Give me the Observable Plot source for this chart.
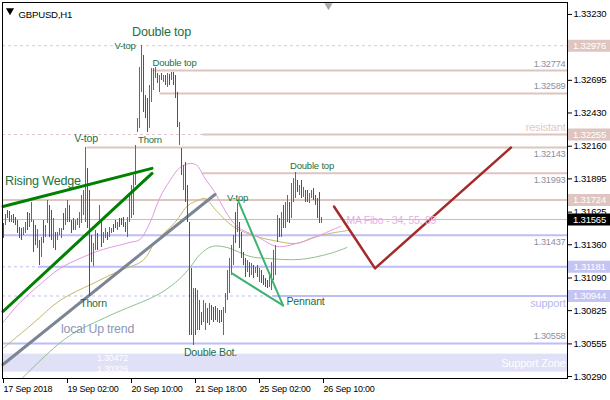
<!DOCTYPE html>
<html><head><meta charset="utf-8">
<script src="https://cdn.jsdelivr.net/npm/d3@7"></script>
<script src="https://cdn.jsdelivr.net/npm/@observablehq/plot@0.6"></script>
<style>
body{margin:0;background:#fff;}
#chart svg{display:block;}
</style>
</head><body><div id="chart"></div>
<script>
// ---------- data ----------
const symbolTitle = "GBPUSD,H1";
const xTickIdx = [0, 32, 64, 96, 128, 160];
const xTickLabels = ["17 Sep 2018", "19 Sep 02:00", "20 Sep 10:00", "21 Sep 18:00", "25 Sep 02:00", "26 Sep 10:00"];
const yTicks = [1.3323, 1.3296, 1.32695, 1.3243, 1.3216, 1.31895, 1.31625, 1.3136, 1.3109, 1.30825, 1.30555, 1.3029];
const yTicksHidden = [1.3296]; // label covered by the 1.32976 price box

const barHigh = [
1.31532,1.31606,1.31638,1.31630,1.31597,1.31606,1.31581,1.31557,1.31500,1.31492,
1.31500,1.31541,1.31622,1.31614,1.31703,1.31557,1.31516,1.31484,1.31394,1.31419,
1.31557,1.31516,1.31719,1.31679,1.31638,1.31573,1.31459,1.31459,1.31492,1.31492,
1.31614,1.31654,1.31719,1.31679,1.31557,1.31573,1.31557,1.31573,1.31622,1.31760,
1.31800,1.32150,1.31979,1.31800,1.31435,1.31370,1.31475,1.31451,1.31679,1.31557,
1.31459,1.31492,1.31459,1.31500,1.31492,1.31524,1.31557,1.31541,1.31573,1.31573,
1.31581,1.31541,1.31581,1.31760,1.31841,1.31922,1.32166,1.32386,1.32800,1.32978,
1.32897,1.32572,1.32548,1.32653,1.32792,1.32792,1.32800,1.32751,1.32735,1.32751,
1.32735,1.32735,1.32751,1.32743,1.32759,1.32759,1.32735,1.32597,1.32353,1.32142,
1.32003,1.32028,1.31841,1.31541,1.31167,1.31005,1.31005,1.30988,1.30907,1.30809,
1.30907,1.30882,1.30842,1.30882,1.30866,1.30850,1.30858,1.30842,1.30826,1.30826,
1.30850,1.30964,1.31151,1.31248,1.31354,1.31435,1.31622,1.31695,1.31541,1.31459,
1.31297,1.31248,1.31232,1.31216,1.31207,1.31191,1.31175,1.31191,1.31167,1.31151,
1.31110,1.31086,1.31069,1.31134,1.31216,1.31313,1.31354,1.31597,1.31573,1.31622,
1.31679,1.31703,1.31760,1.31703,1.31857,1.31898,1.31947,1.31882,1.31841,1.31882,
1.31825,1.31800,1.31800,1.31776,1.31800,1.31817,1.31760,1.31736,1.31784,1.31581];
const barLow = [
1.31410,1.31516,1.31573,1.31541,1.31541,1.31532,1.31516,1.31451,1.31410,1.31394,
1.31435,1.31451,1.31475,1.31500,1.31541,1.31297,1.31354,1.31329,1.31191,1.31256,
1.31370,1.31419,1.31532,1.31419,1.31394,1.31329,1.31313,1.31394,1.31435,1.31410,
1.31475,1.31516,1.31541,1.31541,1.31451,1.31475,1.31475,1.31516,1.31492,1.31532,
1.31597,1.31541,1.31492,1.30939,1.31216,1.31183,1.31313,1.31313,1.31541,1.31337,
1.31370,1.31410,1.31394,1.31419,1.31451,1.31459,1.31492,1.31475,1.31500,1.31516,
1.31500,1.31459,1.31419,1.31541,1.31573,1.31597,1.31841,1.32272,1.32304,1.32597,
1.32434,1.32386,1.32272,1.32304,1.32515,1.32613,1.32710,1.32670,1.32597,1.32694,
1.32678,1.32653,1.32637,1.32653,1.32694,1.32653,1.32548,1.32312,1.32166,1.31922,
1.31800,1.31703,1.31541,1.30623,1.30623,1.30541,1.30623,1.30663,1.30663,1.30704,
1.30728,1.30663,1.30720,1.30704,1.30744,1.30728,1.30744,1.30728,1.30720,1.30728,
1.30623,1.30801,1.30907,1.30964,1.31110,1.31191,1.31370,1.31459,1.31329,1.31248,
1.31191,1.31094,1.31134,1.31094,1.31110,1.31086,1.31126,1.31094,1.31053,1.31045,
1.31029,1.31013,1.31005,1.31013,1.30988,1.31069,1.31110,1.31378,1.31419,1.31419,
1.31492,1.31492,1.31541,1.31532,1.31573,1.31703,1.31736,1.31784,1.31760,1.31736,
1.31744,1.31703,1.31703,1.31695,1.31736,1.31719,1.31679,1.31573,1.31532,1.31532];
const barUp = [
0,1,0,0,1,0,0,0,0,0, 1,1,0,1,1,0,0,1,0,1, 0,1,1,0,0,1,0,1,1,1, 0,1,1,0,0,0,1,1,1,1,
1,1,0,0,0,1,1,0,1,0, 1,1,0,1,1,0,0,1,0,0, 0,0,1,1,1,1,1,1,1,1, 0,0,0,1,1,1,1,0,1,0,
1,0,1,0,1,0,0,0,1,0, 1,0,0,0,0,1,0,1,0,0, 1,1,0,1,0,0,0,1,0,0, 1,1,1,1,1,1,0,1,0,0,
0,0,1,0,1,0,1,0,1,0, 0,0,0,1,1,1,1,1,0,1, 0,1,1,0,1,1,1,0,1,0, 1,0,0,1,1,0,0,0,0,1];

// moving averages (MA Fibo 34, 55, 89), bar index / price
const ma34I = [-0.25,8.25,18.25,28.25,38.25,48.25,63.25,68.25,73.25,78.25,83.25,88.25,93.25,96.75,100.75,105.75,110.75,116.75,126.75,136.75,146.75,156.75,164.75,168.75];
const ma34P = [1.30729,1.30891,1.31038,1.31168,1.31249,1.31314,1.31379,1.31403,1.31541,1.31744,1.31882,1.31988,1.32020,1.32004,1.31898,1.31785,1.31638,1.31509,1.31427,1.31346,1.31371,1.31427,1.31484,1.31509];
const ma55I = [-0.25,14.75,28.25,44.75,58.25,69.75,75.75,85.75,92.25,97.25,100.75,106.75,114.75,123.25,134.75,146.75,154.75,163.25,172.25];
const ma55P = [1.30518,1.30721,1.30908,1.31046,1.31151,1.31232,1.31379,1.31541,1.31679,1.31720,1.31736,1.31630,1.31509,1.31444,1.31395,1.31371,1.31419,1.31452,1.31476];
const ma89I = [9.25,31.75,53.25,78.25,88.25,93.25,98.25,104.25,111.75,123.25,131.75,148.25,163.25,171.75];
const ma89P = [1.30274,1.30607,1.30786,1.30965,1.31086,1.31176,1.31281,1.31346,1.31338,1.31265,1.31249,1.31241,1.31289,1.31338];

// trend lines (bar index, price)
const wedgeUpperI = [-0.25, 74.25], wedgeUpperP = [1.31671, 1.31980];
const wedgeLowerI = [-0.25, 74.25], wedgeLowerP = [1.30818, 1.31939];
const upTrendI = [-0.25, 105.75], upTrendP = [1.30388, 1.31768];
const pennantAI = [117.25, 139.75], pennantAP = [1.31720, 1.30867];
const pennantBI = [114.25, 139.75], pennantBP = [1.31127, 1.30867];
const projectionI = [165.25, 185.75, 253.75], projectionP = [1.31671, 1.31168, 1.32150];

// horizontal levels
const hDashPink = [1.32976, 1.32255];
const hDashBlue = [1.31181, 1.30944];
const solidPinkFull = [1.31724];
const solidBlueFull = [1.31437, 1.30558];
const rayPrice = [1.32774, 1.32589, 1.32150, 1.31941, 1.32255, 1.31181, 1.30944];
const rayStart = [74.75, 78.25, 41.75, 99.75, 99.75, 17.75, 134.75];
const rayColor = ["pink","pink","pink","pink","pink","blue","blue"];
const levelLabelPrice = [1.32774, 1.32589, 1.32150, 1.31941, 1.31437, 1.30558];
const levelLabelText = ["1.32774", "1.32589", "1.32143", "1.31993", "1.31437", "1.30558"];
const levelLabelSide = ["above", "above", "below", "below", "below", "above"];
const boxPrice = [1.32976, 1.32255, 1.31724, 1.31565, 1.31181, 1.30944];
const boxKind = ["pink", "pink", "pink", "current", "blue", "blue"];
const currentPrice = 1.31565;
const zoneLow = 1.30326, zoneHigh = 1.30472;
const chartShiftIdx = 162.5;

// pattern annotations
const annText = ["Double top","V-top","Double top","Thorn","V-top","Rising Wedge","Thorn","local Up trend","Double Bot.","V-top","Double top","Pennant","MA Fibo - 34, 55, 89"];
const annI =    [79, 60.75, 85.5, 73.25, 41.25, 19.75, 45, 47, 103.5, 117, 154.25, 141.5, 171.5];
const annP =    [1.33084, 1.32978, 1.32840, 1.32207, 1.32223, 1.31882, 1.30883, 1.30672, 1.30485, 1.31736, 1.31996, 1.30899, 1.31557];
const annKind = ["big","small","small","small","mid","big","mid","trend","mid","small","small","midL","ma"];

// ---------- styles ----------
const TEAL = "#0e8f8f", RED = "#dc143c";
const PINK = "#dec5bf", PINKD = "#e4c4cc", BLUE = "#bebef6", BLUED = "#c0c0ee", ZONE = "#e0e0f6";
const ANN = "#1d6f42";
const X0 = -0.5, X1 = 282;
const BAR_W = 0.5; // bar body width in bar-index units (1 px)

const bars = barHigh.map((h, k) => ({i: k, hi: h, lo: barLow[k], up: barUp[k] === 1}));
const pts = (I, P) => I.map((v, k) => ({i: v, p: P[k]}));
const rays = rayPrice.map((p, k) => ({p, s: rayStart[k], c: rayColor[k] === "pink" ? PINK : BLUE}));
const lvl = levelLabelPrice.map((p, k) => ({p, t: levelLabelText[k], side: levelLabelSide[k]}));
const boxes = boxPrice.map((p, k) => ({p, kind: boxKind[k]}));
const boxBg = {pink: PINK, blue: "#c4c4f2", current: "#000"};
const annStyle = {
  big:   {fontSize: 12.6, fill: ANN, textAnchor: "middle"},
  mid:   {fontSize: 10.6, fill: ANN, textAnchor: "middle"},
  midL:  {fontSize: 10.6, fill: ANN, textAnchor: "start"},
  small: {fontSize: 9.5, fill: ANN, textAnchor: "middle"},
  trend: {fontSize: 12.3, fill: "#8c96b6", textAnchor: "middle"},
  ma:    {fontSize: 10.4, fill: "#e6aee6", textAnchor: "start"}
};

const plot = Plot.plot({
  width: 610, height: 400,
  marginLeft: 2, marginTop: 2, marginRight: 43, marginBottom: 22,
  x: {domain: [X0, X1], axis: null},
  y: {domain: [1.30274, 1.33327], axis: null},
  color: {type: "identity"},
  style: {fontFamily: "'Liberation Sans', Arial, sans-serif", background: "#fff", overflow: "visible"},
  marks: [
    // support zone
    Plot.rect([{a: zoneLow, b: zoneHigh}], {x1: X0, x2: X1, y1: "a", y2: "b", fill: ZONE}),
    // dashed horizontal lines
    Plot.ruleY(hDashPink, {stroke: PINKD, strokeWidth: 1, strokeDasharray: "3,3"}),
    Plot.ruleY(hDashBlue, {stroke: BLUED, strokeWidth: 1, strokeDasharray: "3,3"}),
    // solid levels
    Plot.ruleY(solidPinkFull, {stroke: PINK, strokeWidth: 2}),
    Plot.ruleY(solidBlueFull, {stroke: BLUE, strokeWidth: 2}),
    Plot.ruleY(rays, {y: "p", x1: "s", x2: X1, stroke: "c", strokeWidth: 2}),
    Plot.ruleY([currentPrice], {stroke: "#c0c0c0", strokeWidth: 1}),
    // level labels
    Plot.text(lvl.filter(d => d.side === "above"), {y: "p", x: X1, dx: -2, dy: -7, text: "t", textAnchor: "end", fill: "#8e8e9e", fontSize: 9.2}),
    Plot.text(lvl.filter(d => d.side === "below"), {y: "p", x: X1, dx: -2, dy: 6.5, text: "t", textAnchor: "end", fill: "#8e8e9e", fontSize: 9.2}),
    Plot.text([zoneHigh], {y: d => d, x: 54.5, dy: 4, text: d => d.toFixed(5), fill: "#fff", fontSize: 9}),
    Plot.text([zoneLow], {y: d => d, x: 54.5, dy: -3, text: d => d.toFixed(5), fill: "#fff", fontSize: 9}),
    Plot.text(["resistant"], {y: 1.3231, x: X1, dx: -2, text: d => d, textAnchor: "end", fill: "#e6c9c3", fontSize: 11}),
    Plot.text(["support"], {y: 1.30883, x: X1, dx: -2, text: d => d, textAnchor: "end", fill: "#b6b6ee", fontSize: 11}),
    Plot.text(["Support Zone"], {y: 1.30396, x: X1, dx: -2, text: d => d, textAnchor: "end", fill: "#fff", fontSize: 11}),
    // moving averages
    Plot.line(pts(ma89I, ma89P), {x: "i", y: "p", stroke: "#8fc08f", strokeWidth: 1, curve: "catmull-rom"}),
    Plot.line(pts(ma55I, ma55P), {x: "i", y: "p", stroke: "#c4b86a", strokeWidth: 1, curve: "catmull-rom"}),
    Plot.line(pts(ma34I, ma34P), {x: "i", y: "p", stroke: "#e09ae0", strokeWidth: 1, curve: "catmull-rom"}),
    // trend lines
    Plot.line(pts(upTrendI, upTrendP), {x: "i", y: "p", stroke: "#7b8595", strokeWidth: 3}),
    // price bars (up = teal, down = crimson), drawn as 1px filled columns
    Plot.rect(bars.filter(d => d.up), {x1: "i", x2: d => d.i + BAR_W, y1: "lo", y2: "hi", fill: TEAL, shapeRendering: "crispEdges"}),
    Plot.rect(bars.filter(d => !d.up), {x1: "i", x2: d => d.i + BAR_W, y1: "lo", y2: "hi", fill: RED, shapeRendering: "crispEdges"}),
    Plot.line(pts(wedgeUpperI, wedgeUpperP), {x: "i", y: "p", stroke: "#008000", strokeWidth: 3}),
    Plot.line(pts(wedgeLowerI, wedgeLowerP), {x: "i", y: "p", stroke: "#008000", strokeWidth: 3}),
    Plot.line(pts(pennantAI, pennantAP), {x: "i", y: "p", stroke: "#3cb371", strokeWidth: 2}),
    Plot.line(pts(pennantBI, pennantBP), {x: "i", y: "p", stroke: "#3cb371", strokeWidth: 2}),
    Plot.line(pts(projectionI, projectionP), {x: "i", y: "p", stroke: "#a52a2a", strokeWidth: 2.5}),
    // annotations
    ...annText.map((t, k) => Plot.text([t], {x: annI[k], y: annP[k], text: d => d, ...annStyle[annKind[k]]})),
    // title
    Plot.dot([0], {frameAnchor: "top-left", dx: 7.5, dy: 8, symbol: "triangle", r: 3, fill: "#000", rotate: 180}),
    Plot.text([symbolTitle], {frameAnchor: "top-left", dx: 16, dy: 9, text: d => d, textAnchor: "start", fill: "#000", fontSize: 9.6}),
    Plot.dot([chartShiftIdx], {x: d => d, frameAnchor: "top", dy: 3, symbol: "triangle", r: 3, fill: "#a8a8a8", rotate: 180}),
    // frame + axes
    Plot.frame({stroke: "#000"}),
    Plot.axisY({anchor: "right", ticks: yTicks, tickFormat: d => yTicksHidden.includes(d) ? "" : d3.format(".5f")(d), tickSize: 4, tickPadding: 2, fontSize: 9.5, fill: "#000", stroke: "#000"}),
    Plot.axisX({anchor: "bottom", ticks: xTickIdx, tickFormat: d => xTickLabels[xTickIdx.indexOf(d)], tickSize: 5, tickPadding: 2, textAnchor: "start", dx: 0, fontSize: 9, fill: "#000", stroke: "#000"}),
    // right-axis price boxes
    Plot.ruleY(boxes, {y: "p", x1: X1 + 0.5, x2: X1 + 21.5, stroke: d => boxBg[d.kind], strokeWidth: 12}),
    Plot.text(boxes, {y: "p", x: X1 + 0.5, dx: 21, text: d => d.p.toFixed(5), textAnchor: "middle", fill: "#fff", fontSize: 9.5})
  ]
});
document.getElementById("chart").appendChild(plot);
d3.select(plot).selectAll("text").style("letter-spacing", "-0.2px");
</script>
</body></html>
